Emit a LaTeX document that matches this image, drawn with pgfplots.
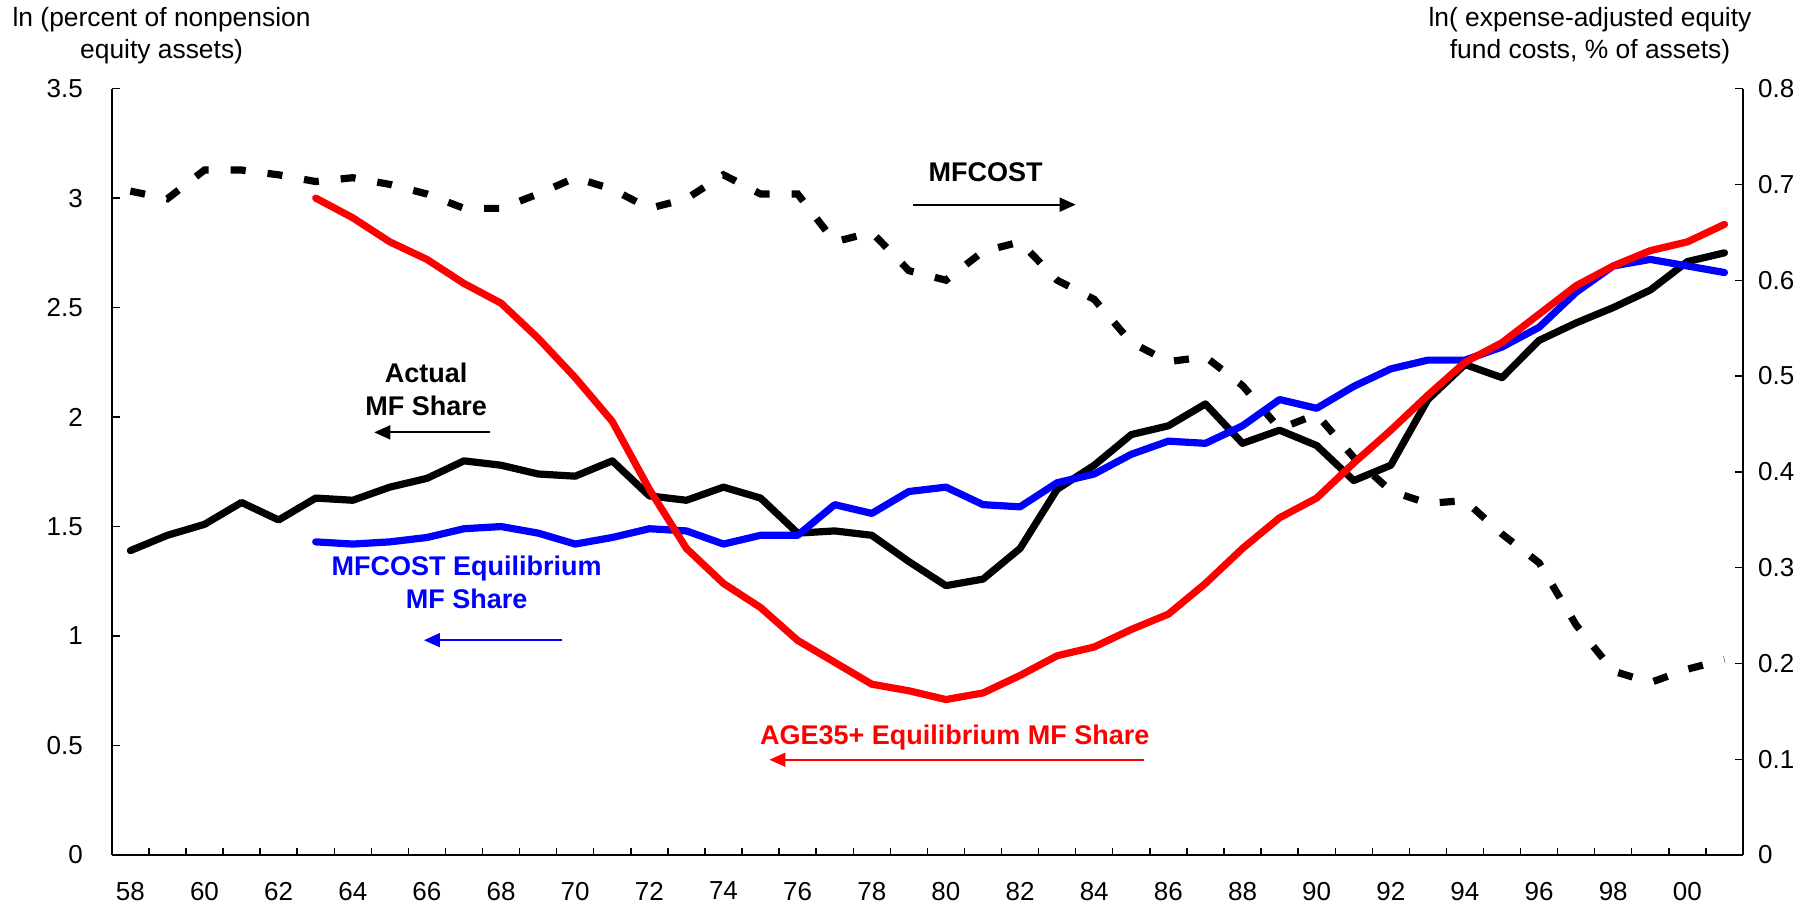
\documentclass[border=0pt]{standalone}
\usepackage{fontspec}
\setmainfont{Liberation Sans}
\usepackage{pgfplots}
\usepackage{pgfplotstable}
\pgfplotsset{compat=1.18}
\usetikzlibrary{arrows.meta}

\pgfplotstableread{
year val
58 1.39
59 1.46
60 1.51
61 1.61
62 1.53
63 1.63
64 1.62
65 1.68
66 1.72
67 1.80
68 1.78
69 1.74
70 1.73
71 1.80
72 1.64
73 1.62
74 1.68
75 1.63
76 1.47
77 1.48
78 1.46
79 1.34
80 1.23
81 1.26
82 1.40
83 1.67
84 1.78
85 1.92
86 1.96
87 2.06
88 1.88
89 1.94
90 1.87
91 1.71
92 1.78
93 2.08
94 2.24
95 2.18
96 2.35
97 2.43
98 2.50
99 2.58
100 2.71
101 2.75
}\actual

\pgfplotstableread{
year val
63 1.43
64 1.42
65 1.43
66 1.45
67 1.49
68 1.50
69 1.47
70 1.42
71 1.45
72 1.49
73 1.48
74 1.42
75 1.46
76 1.46
77 1.60
78 1.56
79 1.66
80 1.68
81 1.60
82 1.59
83 1.70
84 1.74
85 1.83
86 1.89
87 1.88
88 1.96
89 2.08
90 2.04
91 2.14
92 2.22
93 2.26
94 2.26
95 2.32
96 2.41
97 2.57
98 2.69
99 2.72
100 2.69
101 2.66
}\mfcosteq

\pgfplotstableread{
year val
63 3.00
64 2.91
65 2.80
66 2.72
67 2.61
68 2.52
69 2.36
70 2.18
71 1.98
72 1.67
73 1.40
74 1.24
75 1.13
76 0.98
77 0.88
78 0.78
79 0.75
80 0.71
81 0.74
82 0.82
83 0.91
84 0.95
85 1.03
86 1.10
87 1.24
88 1.40
89 1.54
90 1.63
91 1.79
92 1.94
93 2.10
94 2.25
95 2.34
96 2.47
97 2.60
98 2.69
99 2.76
100 2.80
101 2.88
}\agecurve

\pgfplotstableread{
year val
58 0.693
59 0.685
60 0.715
61 0.715
62 0.710
63 0.703
64 0.707
65 0.700
66 0.690
67 0.675
68 0.675
69 0.690
70 0.707
71 0.695
72 0.675
73 0.685
74 0.710
75 0.690
76 0.690
77 0.640
78 0.650
79 0.610
80 0.600
81 0.630
82 0.640
83 0.600
84 0.580
85 0.535
86 0.515
87 0.520
88 0.490
89 0.445
90 0.460
91 0.415
92 0.380
93 0.367
94 0.370
95 0.335
96 0.305
97 0.240
98 0.192
99 0.180
100 0.194
101 0.204
}\mfcost

\begin{document}
\begin{tikzpicture}
\useasboundingbox (0,0) rectangle (902.5pt,453pt);
\pgfplotsset{
  every axis/.append style={
    scale only axis,
    width=815.6pt, height=383.2pt,
    at={(55.9pt,25.5pt)}, anchor=south west,
    xmin=57.5, xmax=101.5,
    tick align=inside,
    major tick length=4pt,
    tick style={black, line width=0.7pt},
    axis line style={black, line width=0.8pt, -},
    tick label style={font=\fontsize{13}{15}\selectfont},
    /pgf/number format/assume math mode=true,
  }
}
% right axis: MFCOST
\begin{axis}[
  axis x line=none,
  axis y line*=right,
  ymin=0, ymax=0.8,
  ytick={0,0.1,0.2,0.3,0.4,0.5,0.6,0.7,0.8},
  yticklabels={0,0.1,0.2,0.3,0.4,0.5,0.6,0.7,0.8},
  yticklabel style={xshift=4pt},
]
\addplot[black, line width=3.6pt, line cap=butt, dash pattern=on 7.5pt off 11pt] table[x=year,y=val] {\mfcost};
\end{axis}
% left axis
\begin{axis}[
  axis x line*=bottom,
  axis y line*=left,
  ymin=0, ymax=3.5,
  ytick={0,0.5,1,1.5,2,2.5,3,3.5},
  yticklabels={0,0.5,1,1.5,2,2.5,3,3.5},
  yticklabel style={xshift=-11pt},
  xtick={58,60,62,64,66,68,70,72,74,76,78,80,82,84,86,88,90,92,94,96,98,100},
  xticklabels={58,60,62,64,66,68,70,72,74,76,78,80,82,84,86,88,90,92,94,96,98,00},
  xticklabel style={yshift=-10pt},
  major x tick style={draw=none},
  minor xtick={58.5,59.5,...,100.5},
  minor tick length=3.5pt,
  minor x tick style={black, line width=0.7pt},
  clip=false,
]
\addplot[black, line width=3.6pt, line join=round, line cap=round] table[x=year,y=val] {\actual};
\addplot[color={rgb,255:red,0;green,0;blue,255}, line width=3.6pt, line join=round, line cap=round] table[x=year,y=val] {\mfcosteq};
\addplot[color={rgb,255:red,255;green,0;blue,0}, line width=3.6pt, line join=round, line cap=round] table[x=year,y=val] {\agecurve};

\node[font=\bfseries\fontsize{13.5}{16.5}\selectfont, align=center] at (axis cs:65.98,2.125) {Actual\\MF Share};
\draw[black, line width=0.9pt, -{Triangle[length=8pt,width=7pt]}] (axis cs:67.69,1.93) -- (axis cs:64.58,1.93);

\node[font=\bfseries\fontsize{13.5}{16.5}\selectfont, align=center, text={rgb,255:red,0;green,0;blue,255}] at (axis cs:67.07,1.245) {MFCOST Equilibrium\\MF Share};
\draw[color={rgb,255:red,0;green,0;blue,255}, line width=0.9pt, -{Triangle[length=8pt,width=7pt]}] (axis cs:69.65,0.981) -- (axis cs:65.92,0.981);

\node[font=\bfseries\fontsize{13.5}{16.5}\selectfont] at (axis cs:81.07,3.12) {MFCOST};
\draw[black, line width=0.9pt, -{Triangle[length=8pt,width=7pt]}] (axis cs:79.1,2.97) -- (axis cs:83.5,2.97);

\node[font=\bfseries\fontsize{13.5}{16.5}\selectfont, text={rgb,255:red,255;green,0;blue,0}] at (axis cs:80.24,0.535) {AGE35+ Equilibrium MF Share};
\draw[color={rgb,255:red,255;green,0;blue,0}, line width=0.9pt, -{Triangle[length=8pt,width=7pt]}] (axis cs:85.33,0.435) -- (axis cs:75.24,0.435);
\end{axis}
\node[align=center, font=\fontsize{13.2}{16}\selectfont] at (80.8pt,435.2pt) {ln (percent of nonpension\\equity assets)};
\node[align=center, font=\fontsize{13.2}{16}\selectfont] at (795pt,435.2pt) {ln( expense-adjusted equity\\fund costs, \% of assets)};
\end{tikzpicture}
\end{document}
